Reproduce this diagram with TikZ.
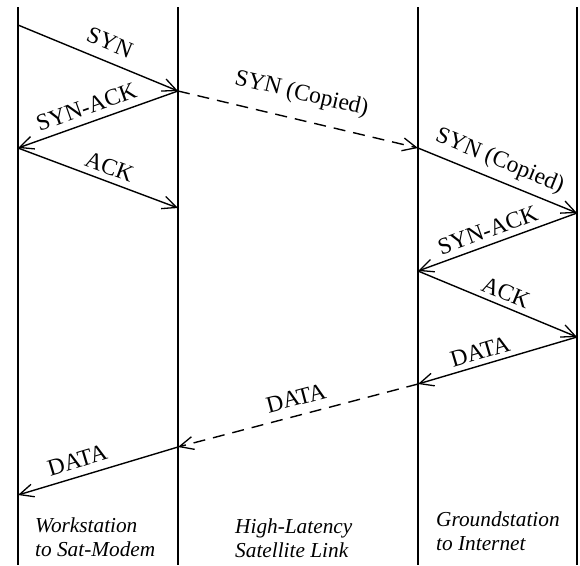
\documentclass[tikz,border=0pt]{standalone}
\usepackage{fontspec}
\setmainfont{Liberation Serif}
\usetikzlibrary{arrows.meta}
\tikzset{
  life/.style={line width=1.5pt},
  msg/.style={line width=1.4pt,-{Straight Barb[length=14pt,width=13pt,line width=1.3pt]}},
  dmsg/.style={msg,dash pattern=on 12pt off 8pt},
  lbl/.style={sloped,anchor=south,inner sep=0pt,font=\fontsize{23.5}{27}\selectfont},
  captxt/.style={anchor=base west,inner sep=0pt,align=left,font=\fontsize{21.3}{23.5}\selectfont\itshape}
}
\begin{document}
\begin{tikzpicture}[x=1pt,y=-1pt]
\useasboundingbox (0,0) rectangle (580,565);
% lifelines
\coordinate (At) at (18,7);   \coordinate (Ab) at (18,565);
\coordinate (Bt) at (178,7);  \coordinate (Bb) at (178,565);
\coordinate (Ct) at (418,7);  \coordinate (Cb) at (418,565);
\coordinate (Dt) at (577,7);  \coordinate (Db) at (577,565);
\draw[life] (At) -- (Ab);
\draw[life] (Bt) -- (Bb);
\draw[life] (Ct) -- (Cb);
\draw[life] (Dt) -- (Db);
% message points
\coordinate (a1) at (18,25);
\coordinate (b1) at (178,91);
\coordinate (a2) at (18,148);
\coordinate (b2) at (178,208);
\coordinate (c1) at (418,148);
\coordinate (d1) at (577,213);
\coordinate (c2) at (418,271);
\coordinate (d2) at (577,337);
\coordinate (c3) at (418,384);
\coordinate (b3) at (178,447);
\coordinate (a3) at (18,495);
% messages
\draw[msg] (a1) -- node[lbl,pos=0.53,yshift=10pt] (l1) {SYN} (b1);
\draw[msg] (b1) -- node[lbl,pos=0.54,yshift=7pt] (l2) {SYN-ACK} (a2);
\draw[msg] (a2) -- node[lbl,pos=0.54,yshift=6pt] (l3) {ACK} (b2);
\draw[dmsg] (b1) -- node[lbl,pos=0.49,yshift=14pt] (l4) {SYN (Copied)} (c1);
\draw[msg] (c1) -- node[lbl,pos=0.47,yshift=7pt] (l5) {SYN (Copied)} (d1);
\draw[msg] (d1) -- node[lbl,pos=0.53,yshift=6pt] (l6) {SYN-ACK} (c2);
\draw[msg] (c2) -- node[lbl,pos=0.52,yshift=5pt] (l7) {ACK} (d2);
\draw[msg] (d2) -- node[lbl,pos=0.585,yshift=5pt] (l8) {DATA} (c3);
\draw[dmsg] (c3) -- node[lbl,pos=0.49,yshift=9pt] (l9) {DATA} (b3);
\draw[msg] (b3) -- node[lbl,pos=0.60,yshift=8pt] (l10) {DATA} (a3);
% captions (anchored at the baseline of the last line)
\node[captxt] (w) at (35,556) {Workstation\\to Sat-Modem};
\node[captxt] (h) at (235,557) {High-Latency\\Satellite Link};
\node[captxt] (g) at (436,550) {Groundstation\\to Internet};
\end{tikzpicture}
\end{document}
